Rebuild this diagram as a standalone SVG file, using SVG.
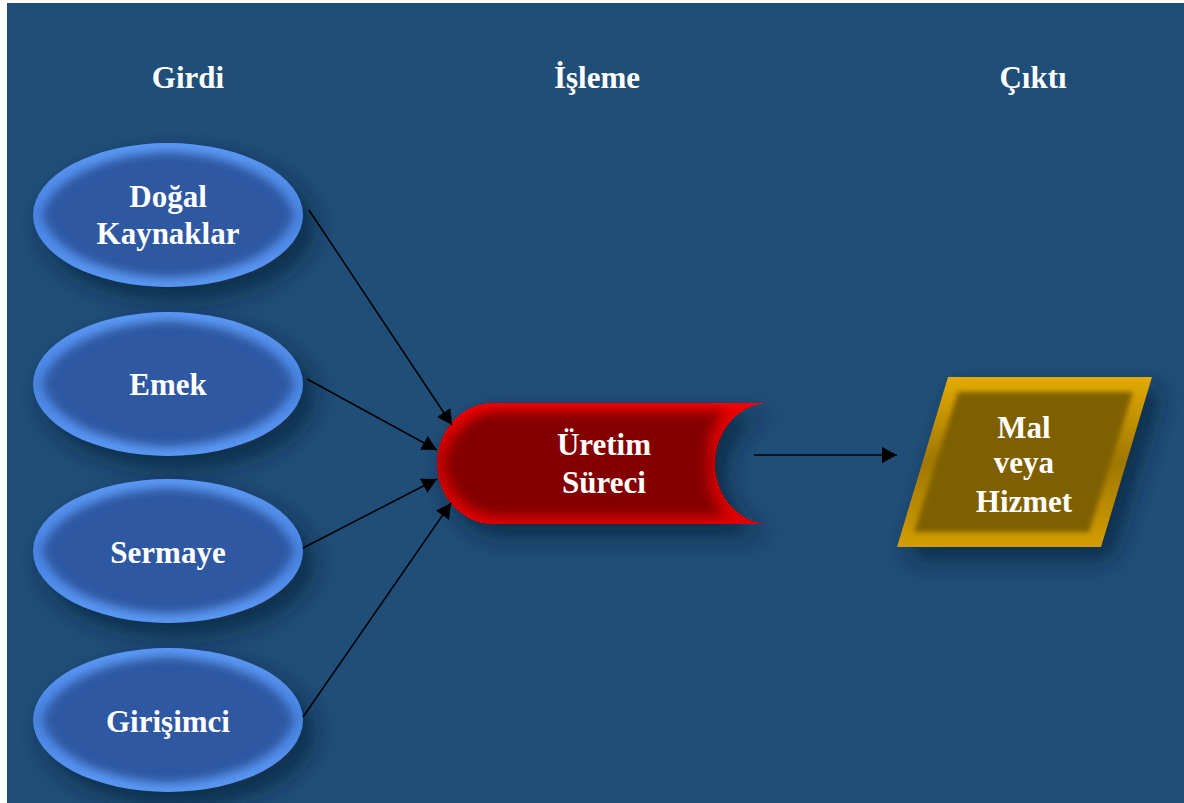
<svg xmlns="http://www.w3.org/2000/svg" width="1184" height="803" viewBox="0 0 1184 803">
  <style>
    .title, .label { font-family: "Liberation Serif", "Times New Roman", serif; font-weight: bold; fill: #ffffff; text-anchor: middle; }
    .title { font-size: 31px; }
    .label { font-size: 31px; }
    .edge { stroke: #000000; stroke-width: 1.5; fill: none; marker-end: url(#arrow); }
  </style>
  <defs>
    <marker id="arrow" viewBox="0 0 15 16" refX="15" refY="8" markerWidth="15" markerHeight="16" markerUnits="userSpaceOnUse" orient="auto">
      <path d="M0,0 L15,8 L0,16 Z" fill="#000000"/>
    </marker>
    <!-- soft shadow cast to the lower right -->
    <filter id="shadow" x="-30%" y="-30%" width="170%" height="170%">
      <feGaussianBlur in="SourceAlpha" stdDeviation="12"/>
      <feOffset dx="10" dy="12" result="blur"/>
      <feFlood flood-color="#0b1d33" flood-opacity="0.7"/>
      <feComposite in2="blur" operator="in"/>
    </filter>
    <!-- bevel: darker core inside a bright rim -->
    <filter id="bevelBlue" x="-10%" y="-10%" width="120%" height="120%">
      <feMorphology in="SourceAlpha" operator="erode" radius="8" result="e"/>
      <feGaussianBlur in="e" stdDeviation="5" result="eb"/>
      <feFlood flood-color="#2f59a2"/>
      <feComposite in2="eb" operator="in" result="core"/>
      <feMerge><feMergeNode in="SourceGraphic"/><feMergeNode in="core"/></feMerge>
    </filter>
    <filter id="bevelRed" x="-10%" y="-10%" width="120%" height="120%">
      <feMorphology in="SourceAlpha" operator="erode" radius="7" result="e"/>
      <feGaussianBlur in="e" stdDeviation="6" result="eb"/>
      <feFlood flood-color="#840000"/>
      <feComposite in2="eb" operator="in" result="core"/>
      <feMerge><feMergeNode in="SourceGraphic"/><feMergeNode in="core"/></feMerge>
    </filter>
    <filter id="soften" x="-5%" y="-5%" width="110%" height="110%">
      <feGaussianBlur stdDeviation="2.5"/>
    </filter>
    <linearGradient id="blueRim" x1="0" y1="0" x2="0" y2="1">
      <stop offset="0" stop-color="#5c9af6"/>
      <stop offset="0.5" stop-color="#4a84e2"/>
      <stop offset="1" stop-color="#5c9af6"/>
    </linearGradient>
    <linearGradient id="redRim" x1="0" y1="0" x2="0" y2="1">
      <stop offset="0" stop-color="#f20000"/>
      <stop offset="0.5" stop-color="#c40000"/>
      <stop offset="1" stop-color="#e00000"/>
    </linearGradient>
    <linearGradient id="goldRim" x1="0" y1="0" x2="0" y2="1">
      <stop offset="0" stop-color="#e3ab00"/>
      <stop offset="0.5" stop-color="#a07800"/>
      <stop offset="1" stop-color="#d39e00"/>
    </linearGradient>
    <ellipse id="oval" cx="0" cy="0" rx="135" ry="72"/>
  </defs>

  <!-- page -->
  <rect x="0" y="0" width="1184" height="803" fill="#ffffff"/>
  <rect x="7" y="3" width="1177" height="800" fill="#1f4e78"/>

  <!-- column headings -->
  <g id="headings">
    <text class="title" x="188" y="88">Girdi</text>
    <text class="title" x="597" y="88">İşleme</text>
    <text class="title" x="1033" y="88">Çıktı</text>
  </g>

  <!-- inputs -->
  <g id="dogal-kaynaklar">
    <use href="#oval" x="168" y="215" filter="url(#shadow)"/>
    <use href="#oval" x="168" y="215" fill="url(#blueRim)" filter="url(#bevelBlue)"/>
    <text class="label" x="168" y="207">Doğal</text>
    <text class="label" x="168" y="244">Kaynaklar</text>
  </g>
  <g id="emek">
    <use href="#oval" x="168" y="384" filter="url(#shadow)"/>
    <use href="#oval" x="168" y="384" fill="url(#blueRim)" filter="url(#bevelBlue)"/>
    <text class="label" x="168" y="395">Emek</text>
  </g>
  <g id="sermaye">
    <use href="#oval" x="168" y="551" filter="url(#shadow)"/>
    <use href="#oval" x="168" y="551" fill="url(#blueRim)" filter="url(#bevelBlue)"/>
    <text class="label" x="168" y="563">Sermaye</text>
  </g>
  <g id="girisimci">
    <use href="#oval" x="168" y="720" filter="url(#shadow)"/>
    <use href="#oval" x="168" y="720" fill="url(#blueRim)" filter="url(#bevelBlue)"/>
    <text class="label" x="168" y="732">Girişimci</text>
  </g>

  <!-- process -->
  <g id="uretim-sureci">
    <path d="M493,403 L770,403 A55,60.5 0 0 0 770,524 L493,524 A56,60.5 0 0 1 493,403 Z" filter="url(#shadow)"/>
    <path d="M493,403 L770,403 A55,60.5 0 0 0 770,524 L493,524 A56,60.5 0 0 1 493,403 Z" fill="url(#redRim)" filter="url(#bevelRed)"/>
    <text class="label" x="604" y="455">Üretim</text>
    <text class="label" x="604" y="493">Süreci</text>
  </g>

  <!-- output: bevelled parallelogram -->
  <g id="mal-veya-hizmet">
    <polygon points="948,377 1152,377 1101,547 897,547" filter="url(#shadow)"/>
    <polygon points="948,377 1152,377 1101,547 897,547" fill="url(#goldRim)"/>
    <polygon points="958,392 1133,392 1089,532 914,532" fill="#7f6000" filter="url(#soften)"/>
    <text class="label" x="1024" y="438">Mal</text>
    <text class="label" x="1024" y="473">veya</text>
    <text class="label" x="1024" y="512">Hizmet</text>
  </g>

  <!-- connectors -->
  <g id="connectors">
    <line class="edge" x1="309" y1="210" x2="452" y2="425"/>
    <line class="edge" x1="307" y1="379" x2="437" y2="450"/>
    <line class="edge" x1="303" y1="548" x2="437" y2="479"/>
    <line class="edge" x1="303" y1="717" x2="451" y2="503"/>
    <line class="edge" x1="754" y1="455" x2="897" y2="455"/>
  </g>
</svg>
